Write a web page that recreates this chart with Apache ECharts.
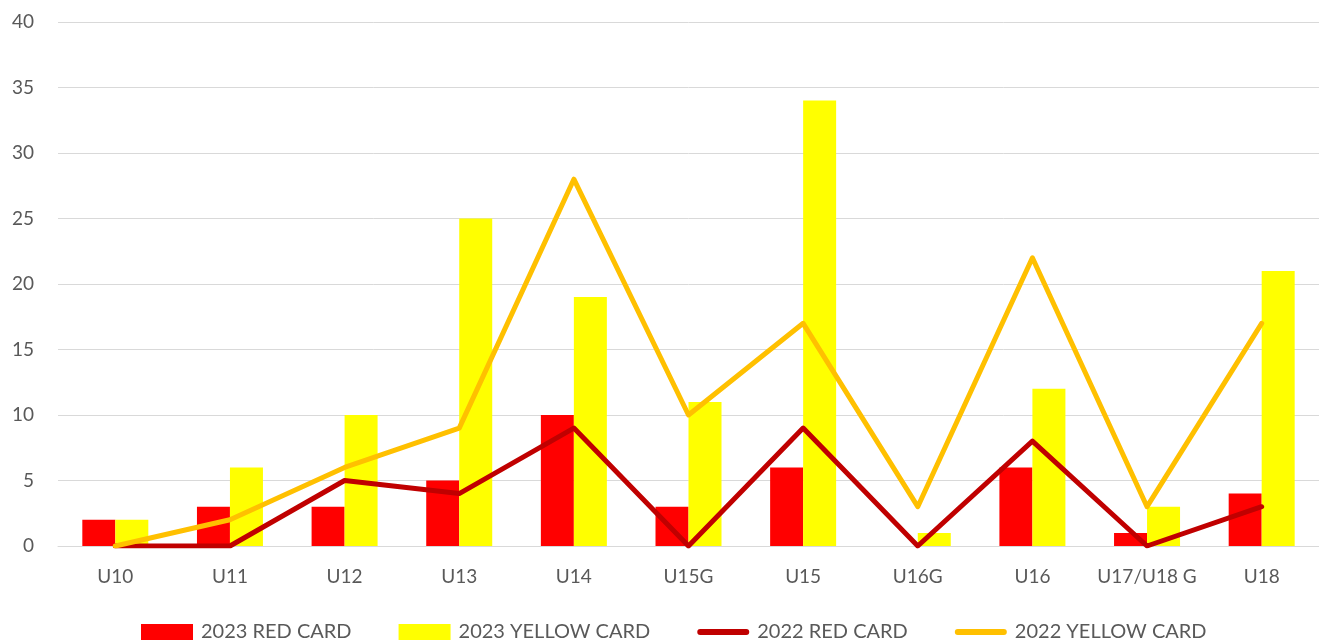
<!DOCTYPE html>
<html>
<head>
<meta charset="utf-8">
<script src="https://cdn.jsdelivr.net/npm/echarts@6/dist/echarts.min.js"></script>
<style>html,body{margin:0;padding:0;background:#fff;}#c{width:1319px;height:642px;}</style>
</head>
<body>
<div id="c"></div>
<script>
const categories = ['U10','U11','U12','U13','U14','U15G','U15','U16G','U16','U17/U18 G','U18'];
const red2023 = [2,3,3,5,10,3,6,0,6,1,4];
const yellow2023 = [2,6,10,25,19,11,34,1,12,3,21];
const red2022 = [0,0,5,4,9,0,9,0,8,0,3];
const yellow2022 = [0,2,6,9,28,10,17,3,22,3,17];
const seriesNames = ['2023 RED CARD','2023 YELLOW CARD','2022 RED CARD','2022 YELLOW CARD'];

const chart = echarts.init(document.getElementById('c'), null, {renderer:'canvas'});
const font = 'Lato, "Open Sans", sans-serif';
const linePath = 'path://M2.5,0 L41.5,0 A2.5,2.5 0 0 1 41.5,5 L2.5,5 A2.5,2.5 0 0 1 2.5,0 Z';
chart.setOption({
  animation:false,
  textStyle:{fontFamily:font},
  grid:{left:58,right:0,top:22,bottom:96,containLabel:false},
  legend:{
    bottom:-5, left:136, itemGap:47, itemWidth:52, itemHeight:16,
    textStyle:{fontSize:20,color:'#595959',fontFamily:font,padding:[0,0,0,3]},
    data:[
      {name:seriesNames[0],icon:'rect'},
      {name:seriesNames[1],icon:'rect'},
      {name:seriesNames[2],icon:linePath,itemWidth:44,itemHeight:5,itemStyle:{color:'#C00000'}},
      {name:seriesNames[3],icon:linePath,itemWidth:44,itemHeight:5,itemStyle:{color:'#FFC000'}}
    ]
  },
  xAxis:{
    type:'category', data:categories,
    axisLine:{show:true,lineStyle:{color:'#d9d9d9',width:1}},
    axisTick:{show:false},
    axisLabel:{fontSize:19,color:'#595959',margin:21,interval:0}
  },
  yAxis:{
    type:'value', min:0, max:40, interval:5,
    axisLine:{show:false}, axisTick:{show:false},
    axisLabel:{fontSize:19,color:'#595959',margin:24},
    splitLine:{lineStyle:{color:'#d9d9d9',width:1}}
  },
  series:[
    {name:seriesNames[0],type:'bar',data:red2023,barWidth:33,barGap:'0%',itemStyle:{color:'#FF0000'}},
    {name:seriesNames[1],type:'bar',data:yellow2023,barWidth:33,barGap:'0%',itemStyle:{color:'#FFFF00'}},
    {name:seriesNames[2],type:'line',data:red2022,showSymbol:false,symbol:'none',lineStyle:{color:'#C00000',width:5,cap:'round',join:'round'},itemStyle:{color:'#C00000'}},
    {name:seriesNames[3],type:'line',data:yellow2022,showSymbol:false,symbol:'none',lineStyle:{color:'#FFC000',width:5,cap:'round',join:'round'},itemStyle:{color:'#FFC000'}}
  ]
});
</script>
</body>
</html>
